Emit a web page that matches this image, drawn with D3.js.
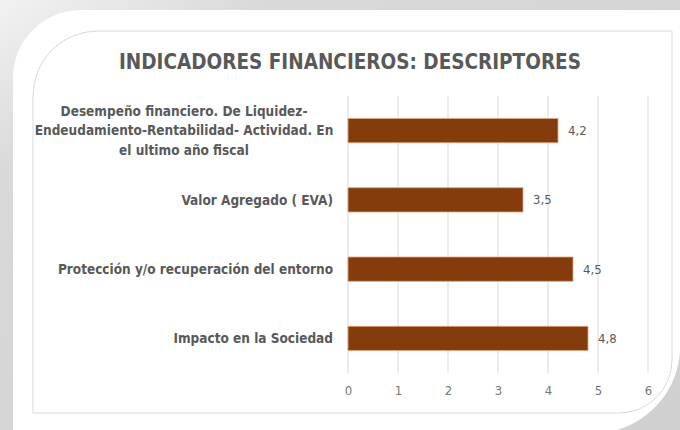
<!DOCTYPE html>
<html>
<head>
<meta charset="utf-8">
<script src="https://cdn.jsdelivr.net/npm/d3@7"></script>
<style>
  body { margin: 0; background: #d6d6d6; }
  svg { display: block; }
</style>
</head>
<body>
<div id="chart"></div>
<script>
const categories = [
  "Desempeño financiero. De Liquidez-|Endeudamiento-Rentabilidad- Actividad. En|el ultimo año fiscal",
  "Valor Agregado ( EVA)",
  "Protección y/o recuperación del entorno",
  "Impacto en la Sociedad"
];
const values = [4.2, 3.5, 4.5, 4.8];
const valueLabels = ["4,2", "3,5", "4,5", "4,8"];
const ticks = [0, 1, 2, 3, 4, 5, 6];

const width = 680, height = 430;
const labelFont = "'Liberation Sans Narrow', 'DejaVu Sans Condensed', 'Open Sans', sans-serif";
const grey = "#595959";

const svg = d3.select("#chart").append("svg")
    .attr("width", width)
    .attr("height", height);

// background
const defs = svg.append("defs");
const bg = defs.append("linearGradient").attr("id", "bg")
    .attr("x1", 0).attr("y1", 0).attr("x2", 1).attr("y2", 1);
bg.append("stop").attr("offset", "0%").attr("stop-color", "#f2f2f2");
bg.append("stop").attr("offset", "20%").attr("stop-color", "#d9d9d9");
bg.append("stop").attr("offset", "100%").attr("stop-color", "#d0d0d0");

svg.append("rect").attr("width", width).attr("height", height).attr("fill", "url(#bg)");

// white card
svg.append("path")
    .attr("d", "M13,80 A68,68 0 0 1 80,10 L680,10 L680,352 A88,88 0 0 1 617,430 L13,430 Z")
    .attr("fill", "#ffffff");

// chart area
svg.append("path")
    .attr("d", "M33,96 A65,65 0 0 1 98,31 L672,31 L672,360 A53,53 0 0 1 619,413 L33,413 Z")
    .attr("fill", "#ffffff")
    .attr("stroke", "#d9d9d9")
    .attr("stroke-width", 1);

// title
svg.append("text")
    .attr("x", 350)
    .attr("y", 69)
    .attr("text-anchor", "middle")
    .style("font-family", labelFont)
    .style("font-size", "20.5px")
    .style("font-weight", "bold")
    .attr("fill", grey)
    .text("INDICADORES FINANCIEROS: DESCRIPTORES");

const x = d3.scaleLinear().domain([0, 6]).range([348, 648]);
const y = d3.scaleBand().domain(categories).range([96, 373]).paddingInner(0.65).paddingOuter(0.325);

// gridlines
svg.append("g")
    .selectAll("line")
    .data(ticks)
    .join("line")
    .attr("x1", d => x(d)).attr("x2", d => x(d))
    .attr("y1", 96).attr("y2", 373)
    .attr("stroke", "#d9d9d9")
    .attr("stroke-width", 1);

// x axis labels
const xAxis = svg.append("g")
    .attr("transform", "translate(0,373)")
    .call(d3.axisBottom(x).tickValues(ticks).tickSize(0).tickPadding(13).tickFormat(d3.format("d")));
xAxis.select(".domain").remove();
xAxis.selectAll("text")
    .style("font-family", labelFont)
    .style("font-size", "13px")
    .attr("fill", "#767676");

// bars
svg.append("g")
    .selectAll("rect")
    .data(values)
    .join("rect")
    .attr("x", x(0))
    .attr("y", (d, i) => y(categories[i]))
    .attr("width", d => x(d) - x(0))
    .attr("height", y.bandwidth())
    .attr("fill", "#843c0c")
    .attr("stroke", "#e0a47c")
    .attr("stroke-width", 0.8);

// value labels
svg.append("g")
    .selectAll("text")
    .data(values)
    .join("text")
    .attr("x", d => x(d) + 10)
    .attr("y", (d, i) => y(categories[i]) + y.bandwidth() / 2)
    .attr("dy", "0.35em")
    .style("font-family", labelFont)
    .style("font-size", "13px")
    .attr("fill", grey)
    .text((d, i) => valueLabels[i]);

// category labels
const lab = svg.append("g")
    .selectAll("text")
    .data(categories)
    .join("text")
    .style("font-family", labelFont)
    .style("font-size", "13.5px")
    .style("font-weight", "bold")
    .attr("fill", grey);

lab.each(function (d) {
  const lines = d.split("|");
  const t = d3.select(this);
  const cy = y(d) + y.bandwidth() / 2;
  const lh = 19.5;
  if (lines.length === 1) {
    t.attr("x", 333).attr("y", cy).attr("dy", "0.35em").attr("text-anchor", "end").text(d);
  } else {
    t.attr("text-anchor", "middle");
    lines.forEach((l, i) => {
      t.append("tspan")
        .attr("x", 184)
        .attr("y", cy + (i - (lines.length - 1) / 2) * lh)
        .attr("dy", "0.35em")
        .text(l);
    });
  }
});
</script>
</body>
</html>
